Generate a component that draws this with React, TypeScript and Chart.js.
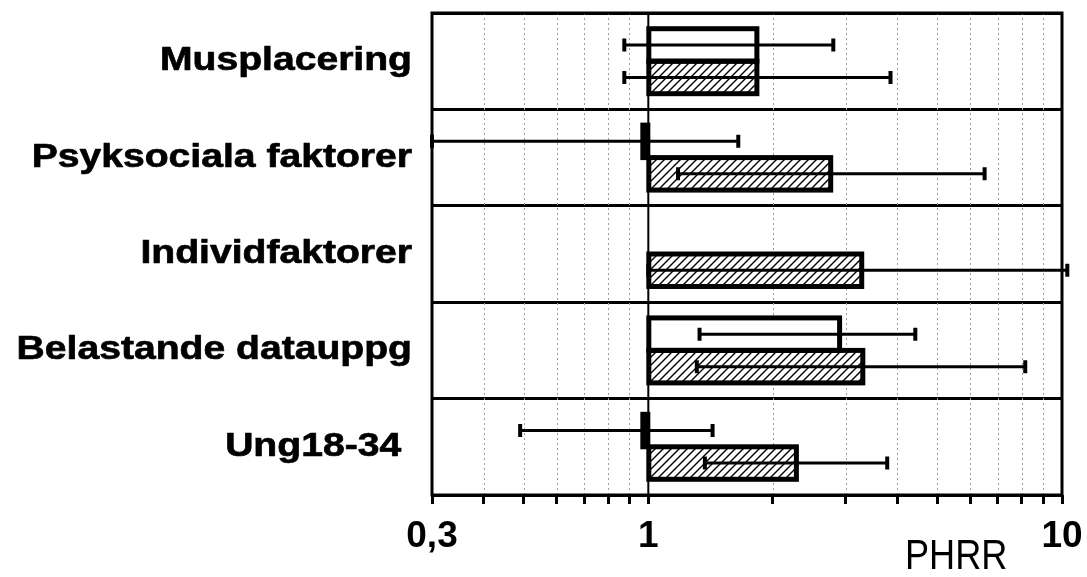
import React, { useEffect, useRef } from 'react';
import { Chart, registerables } from 'chart.js';

Chart.register(...registerables);

const categories = ['Musplacering', 'Psyksociala faktorer', 'Individfaktorer', 'Belastande datauppg', 'Ung18-34 '];
const openValues = [1.83, 0.97, null, 2.9, 0.97];
const openLow = [0.875, 0.3, null, 1.33, 0.49];
const openHigh = [2.8, 1.65, null, 4.42, 1.43];
const hatchValues = [1.83, 2.76, 3.28, 3.3, 2.28];
const hatchLow = [0.875, 1.18, 1.0, 1.31, 1.37];
const hatchHigh = [3.85, 6.5, 10.3, 8.15, 3.78];
const xTickValues = [0.3, 0.4, 0.5, 0.6, 0.7, 0.8, 0.9, 1, 2, 3, 4, 5, 6, 7, 8, 9, 10];
const xTickLabels: Record<string, string> = { '0.3': '0,3', '1': '1', '10': '10' };
const axisTitle = 'PHRR';

const FONT = '"Liberation Sans", Arial, Helvetica, sans-serif';

function makeHatch(): CanvasPattern | string {
  const c = document.createElement('canvas');
  c.width = 8;
  c.height = 8;
  const g = c.getContext('2d');
  if (!g) return '#fff';
  g.fillStyle = '#fff';
  g.fillRect(0, 0, 8, 8);
  g.strokeStyle = '#000';
  g.lineWidth = 1.4;
  g.beginPath();
  g.moveTo(-1, 9);
  g.lineTo(9, -1);
  g.moveTo(-1, 1);
  g.lineTo(1, -1);
  g.moveTo(7, 9);
  g.lineTo(9, 7);
  g.stroke();
  const p = g.createPattern(c, 'repeat');
  return p || '#fff';
}

const customPlugin = {
  id: 'customDraw',
  beforeDatasetsDraw(chart: any) {
    const { ctx, chartArea: a } = chart;
    const xs = chart.scales.x;
    ctx.save();
    ctx.strokeStyle = '#9c9c9c';
    ctx.lineWidth = 1;
    ctx.setLineDash([2, 3]);
    xTickValues.forEach((v) => {
      if (v === 0.3 || v === 1 || v === 10) return;
      const px = Math.round(xs.getPixelForValue(v)) + 0.5;
      ctx.beginPath();
      ctx.moveTo(px, a.top);
      ctx.lineTo(px, a.bottom);
      ctx.stroke();
    });
    ctx.setLineDash([]);
    const p1 = xs.getPixelForValue(1);
    ctx.strokeStyle = '#000';
    ctx.lineWidth = 2;
    ctx.beginPath();
    ctx.moveTo(p1, a.top);
    ctx.lineTo(p1, a.bottom);
    ctx.stroke();
    ctx.lineWidth = 3;
    ctx.strokeRect(a.left, a.top, a.right - a.left, a.bottom - a.top);
    ctx.restore();
  },
  afterDatasetsDraw(chart: any) {
    const ctx = chart.ctx;
    const xs = chart.scales.x;
    const lows = [openLow, hatchLow];
    const highs = [openHigh, hatchHigh];
    ctx.save();
    ctx.strokeStyle = '#000';
    chart.data.datasets.forEach((ds: any, di: number) => {
      const meta = chart.getDatasetMeta(di);
      meta.data.forEach((bar: any, i: number) => {
        if (ds.data[i] == null) return;
        const { x, y, base, height } = bar.getProps(['x', 'y', 'base', 'height'], true);
        ctx.lineWidth = 5;
        ctx.strokeRect(Math.min(x, base), y - height / 2, Math.abs(x - base), height);
      });
    });
    chart.data.datasets.forEach((ds: any, di: number) => {
      const meta = chart.getDatasetMeta(di);
      meta.data.forEach((bar: any, i: number) => {
        const lo = lows[di][i];
        const hi = highs[di][i];
        if (lo == null || hi == null) return;
        const { y } = bar.getProps(['y'], true);
        const xl = xs.getPixelForValue(lo);
        const xh = xs.getPixelForValue(hi);
        ctx.lineWidth = 3;
        ctx.beginPath();
        ctx.moveTo(xl, y);
        ctx.lineTo(xh, y);
        ctx.stroke();
        ctx.lineWidth = 4;
        ctx.beginPath();
        ctx.moveTo(xl, y - 6.5);
        ctx.lineTo(xl, y + 6.5);
        ctx.moveTo(xh, y - 6.5);
        ctx.lineTo(xh, y + 6.5);
        ctx.stroke();
      });
    });
    ctx.restore();
  },
  afterDraw(chart: any) {
    const ctx = chart.ctx;
    const ys = chart.scales.y;
    ctx.save();
    ctx.fillStyle = '#000';
    ctx.strokeStyle = '#000';
    ctx.lineJoin = 'round';
    ctx.font = `bold 34px ${FONT}`;
    ctx.textAlign = 'right';
    ctx.textBaseline = 'alphabetic';
    categories.forEach((lab, i) => {
      const cy = ys.getPixelForTick(i);
      ctx.save();
      ctx.translate(412, cy + 9);
      ctx.scale(1.15, 1);
      ctx.fillText(lab, 0, 0);
      ctx.lineWidth = 0.7;
      ctx.strokeText(lab, 0, 0);
      ctx.restore();
    });
    ctx.font = `42px ${FONT}`;
    ctx.textAlign = 'left';
    ctx.save();
    ctx.translate(905, 569);
    ctx.scale(0.86, 1);
    ctx.fillText(axisTitle, 0, 0);
    ctx.restore();
    ctx.restore();
  },
};

export default function App() {
  const ref = useRef<HTMLCanvasElement | null>(null);
  useEffect(() => {
    if (!ref.current) return;
    const hatch = makeHatch();
    const chart = new Chart(ref.current, {
      type: 'bar',
      data: {
        labels: categories,
        datasets: [
          {
            label: 'open',
            data: openValues as any,
            base: 1,
            backgroundColor: '#ffffff',
            borderWidth: 0,
          } as any,
          {
            label: 'hatched',
            data: hatchValues as any,
            base: 1,
            backgroundColor: hatch as any,
            borderWidth: 0,
          } as any,
        ],
      },
      options: {
        responsive: false,
        animation: false,
        devicePixelRatio: 1,
        indexAxis: 'y',
        layout: { padding: { left: 0, right: 25, top: 13, bottom: 0 } },
        datasets: { bar: { categoryPercentage: 0.674, barPercentage: 1 } } as any,
        plugins: { legend: { display: false }, tooltip: { enabled: false } },
        scales: {
          x: {
            type: 'logarithmic',
            position: 'bottom',
            min: 0.3,
            max: 10,
            afterBuildTicks: (s: any) => {
              s.ticks = xTickValues.map((v) => ({ value: v }));
            },
            afterFit: (s: any) => {
              s.height = 82;
              s.paddingLeft = 0;
              s.paddingRight = 0;
            },
            ticks: {
              autoSkip: false,
              maxRotation: 0,
              minRotation: 0,
              padding: 14,
              color: '#000',
              font: { family: FONT, size: 37, weight: 'bold', lineHeight: 1 },
              callback: (v: any) => xTickLabels[String(v)] ?? '',
            },
            grid: {
              drawOnChartArea: false,
              drawTicks: true,
              tickLength: 9,
              tickWidth: 3,
              tickColor: '#000',
            },
            border: { display: false },
          } as any,
          y: {
            type: 'category',
            afterFit: (s: any) => {
              s.width = 432;
            },
            ticks: { display: false },
            grid: { offset: true, color: '#000', lineWidth: 3, drawTicks: false },
            border: { display: false },
          } as any,
        },
      },
      plugins: [customPlugin],
    });
    return () => chart.destroy();
  }, []);
  return (
    <div style={{ position: 'fixed', left: 0, top: 0, width: 1087, height: 577, background: '#fff' }}>
      <canvas ref={ref} width={1087} height={577} style={{ display: 'block' }} />
    </div>
  );
}
